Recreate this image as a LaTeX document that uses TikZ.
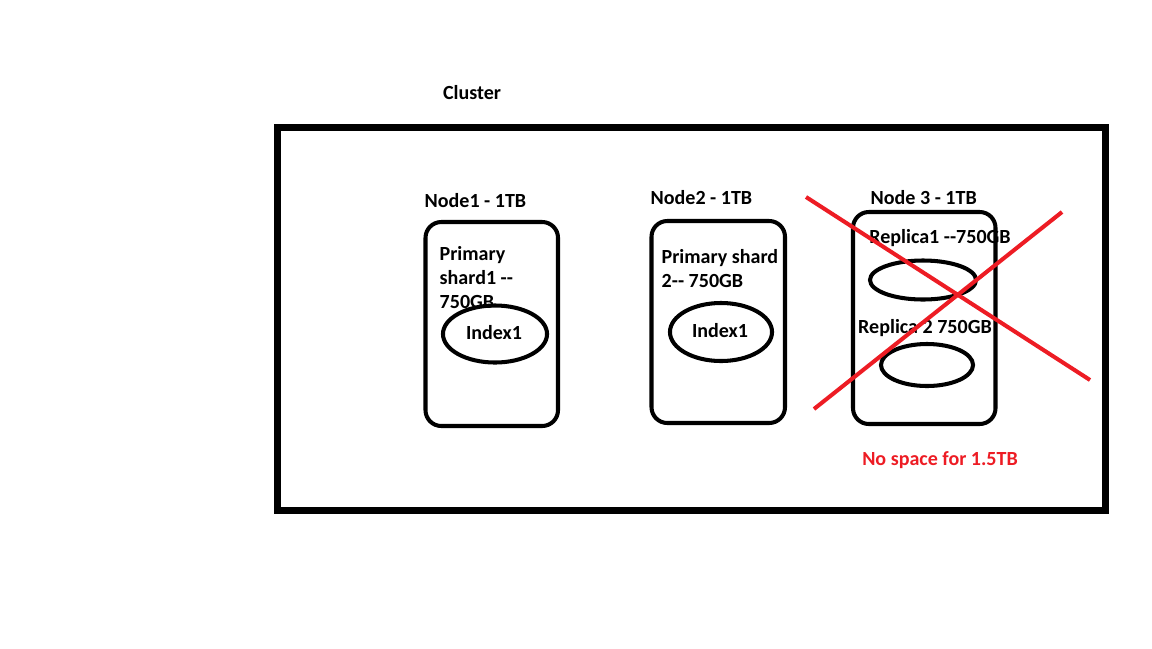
\documentclass[tikz,border=0pt]{standalone}
\usepackage{fontspec}
\setmainfont{Carlito}
\usetikzlibrary{shapes.geometric}
\begin{document}
\begin{tikzpicture}[x=0.01cm,y=-0.01cm,
  lbl/.style={font=\fontsize{5.7}{6.8}\selectfont\bfseries, inner sep=0pt},
  server/.style={draw, line width=1.15pt, rounded corners=4.5pt},
  disk/.style={draw, ellipse, line width=1.15pt, inner sep=0pt},
  cross/.style={draw=xred, line width=1.15pt},
  warn/.style={lbl, text=xred}]
\definecolor{xred}{HTML}{ED1C24}
\useasboundingbox (0,0) rectangle (1152,648);
% cluster frame
\draw[line width=2pt] (277.5,127.5) rectangle (1105.5,510.5);
\node[lbl] (cluster) at (472,93) {Cluster};

% node 1
\draw[server] (425.5,222) rectangle (558,426);
\node[lbl, anchor=west] (n1) at (424,201) {Node1 - 1TB};
\node[lbl, anchor=north west, align=left] (p1) at (439,246) {Primary\\shard1 {-}{-}\\750GB};
\node[disk, minimum width=1.04cm, minimum height=0.57cm] (i1) at (495,334) {};
\node[lbl] (i1t) at (494,333) {Index1};

% node 2
\draw[server] (651.5,221) rectangle (785,423);
\node[lbl, anchor=west] (n2) at (650,198) {Node2 - 1TB};
\node[lbl, anchor=north west, align=left] (p2) at (661,249) {Primary shard\\2{-}{-} 750GB};
\node[disk, minimum width=1.02cm, minimum height=0.58cm] (i2) at (721,332) {};
\node[lbl] (i2t) at (720,331) {Index1};

% node 3
\draw[server] (853,212) rectangle (995.5,424);
\node[lbl, anchor=west] (n3) at (870,198) {Node 3 - 1TB};
\node[lbl] (r1) at (940,238) {Replica1 {-}{-}750GB};
\node[disk, minimum width=1.06cm, minimum height=0.39cm] (d1) at (923,280) {};
\node[lbl] (r2) at (925,328) {Replica 2 750GB};
\node[disk, minimum width=0.92cm, minimum height=0.42cm] (d2) at (927,365) {};

% crossed out
\coordinate (c1a) at (806,197);
\coordinate (c1b) at (1090,380);
\coordinate (c2a) at (1062,212);
\coordinate (c2b) at (814,409);
\draw[cross] (c1a) -- (c1b);
\draw[cross] (c2a) -- (c2b);
\node[warn] (msg) at (940,460) {No space for 1.5TB};
\end{tikzpicture}
\end{document}
